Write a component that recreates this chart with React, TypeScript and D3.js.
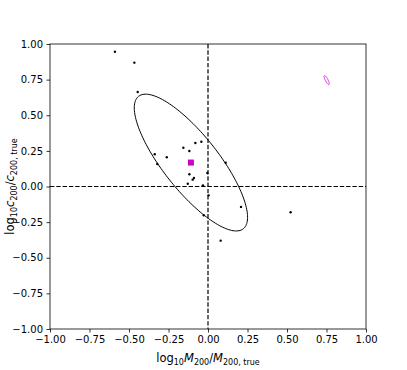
import React, { useRef, useEffect } from 'react';
import * as d3 from 'd3';

// scatter of individual fits (log10 M/Mtrue, log10 c/ctrue)
const pointsX = [-0.589, -0.466, -0.445, -0.337, -0.321, -0.261, -0.156, -0.118, -0.080, -0.042,
  -0.004, -0.118, -0.089, -0.097, -0.128, -0.032, 0.004, 0.112, 0.209, -0.027, 0.523, 0.080];
const pointsY = [0.946, 0.869, 0.663, 0.226, 0.158, 0.205, 0.272, 0.249, 0.305, 0.314,
  0.095, 0.086, 0.060, 0.048, 0.019, 0.008, -0.062, 0.167, -0.143, -0.202, -0.181, -0.380];

// mean of the scatter and its covariance ellipse
const meanPoint = { x: -0.108, y: 0.168 };
const scatterEllipse = { cx: -0.108, cy: 0.168, sx: 0.3585, sy: 0.48, rho: -0.8 };

// stacked-fit ellipse (magenta)
const stackEllipse = { cx: 0.751, cy: 0.747, sx: 0.016, sy: 0.031, rho: -0.8 };

const xTicks = [-1.0, -0.75, -0.5, -0.25, 0.0, 0.25, 0.5, 0.75, 1.0];
const yTicks = [-1.0, -0.75, -0.5, -0.25, 0.0, 0.25, 0.5, 0.75, 1.0];

const W = 407;
const H = 370;

const ellipsePoints = (e: { cx: number; cy: number; sx: number; sy: number; rho: number }) =>
  d3.range(0, 361, 2).map(deg => {
    const t = (deg * Math.PI) / 180;
    return [
      e.cx + e.sx * Math.cos(t),
      e.cy + e.sy * (e.rho * Math.cos(t) + Math.sqrt(1 - e.rho * e.rho) * Math.sin(t)),
    ] as [number, number];
  });

const App = () => {
  const ref = useRef<SVGSVGElement>(null);

  useEffect(() => {
    const svg = d3.select(ref.current);
    svg.selectAll('*').remove();

    const margin = { top: 44, right: 41, bottom: 41, left: 50 };
    const innerW = W - margin.left - margin.right;
    const innerH = H - margin.top - margin.bottom;

    const x = d3.scaleLinear().domain([-1, 1]).range([0, innerW]);
    const y = d3.scaleLinear().domain([-1, 1]).range([innerH, 0]);

    const g = svg.append('g')
      .attr('transform', `translate(${margin.left}, ${margin.top})`);

    const fmt = d3.format('.2f');
    const tickFmt = (d: d3.NumberValue) => fmt(+d).replace('-', '\u2212');

    // Axes
    const xAxis = g.append('g')
      .attr('transform', `translate(0, ${innerH})`)
      .call(d3.axisBottom(x).tickValues(xTicks).tickFormat(tickFmt).tickSize(3.5).tickPadding(3.5));
    const yAxis = g.append('g')
      .call(d3.axisLeft(y).tickValues(yTicks).tickFormat(tickFmt).tickSize(3.5).tickPadding(3.5));
    [xAxis, yAxis].forEach(a => {
      a.select('.domain').remove();
      a.selectAll('line').attr('stroke', '#000').attr('stroke-width', 0.8);
      a.selectAll('text')
        .attr('fill', '#000')
        .style('font-family', 'DejaVu Sans')
        .style('font-size', '10px');
    });

    // Reference lines
    const dash = '4.4,1.9';
    g.append('line')
      .attr('x1', 0).attr('x2', innerW)
      .attr('y1', y(0)).attr('y2', y(0))
      .attr('stroke', '#000').attr('stroke-width', 1.2).attr('stroke-dasharray', dash);
    g.append('line')
      .attr('x1', x(0)).attr('x2', x(0))
      .attr('y1', 0).attr('y2', innerH)
      .attr('stroke', '#000').attr('stroke-width', 1.2).attr('stroke-dasharray', dash);

    const line = d3.line<[number, number]>().x(d => x(d[0])).y(d => y(d[1]));

    // Ellipses
    g.append('path')
      .attr('d', line(ellipsePoints(scatterEllipse)))
      .attr('fill', 'none').attr('stroke', '#000').attr('stroke-width', 1);
    g.append('path')
      .attr('d', line(ellipsePoints(stackEllipse)))
      .attr('fill', 'none').attr('stroke', '#cc00cc').attr('stroke-width', 0.8);

    // Points
    g.selectAll('circle.pt')
      .data(pointsX.map((v, i) => [v, pointsY[i]]))
      .join('circle')
      .attr('class', 'pt')
      .attr('cx', d => x(d[0]))
      .attr('cy', d => y(d[1]))
      .attr('r', 1.2)
      .attr('fill', '#000');

    // Mean marker
    g.append('rect')
      .attr('x', x(meanPoint.x) - 3)
      .attr('y', y(meanPoint.y) - 3)
      .attr('width', 6).attr('height', 6)
      .attr('fill', '#cc00cc');

    // Frame
    g.append('rect')
      .attr('width', innerW).attr('height', innerH)
      .attr('fill', 'none').attr('stroke', '#000').attr('stroke-width', 0.8);

    // Labels
    const xl = g.append('text')
      .attr('x', innerW / 2)
      .attr('y', innerH + 33)
      .attr('text-anchor', 'middle')
      .style('font-family', 'DejaVu Sans')
      .style('font-size', '11.5px');
    xl.append('tspan').text('log');
    xl.append('tspan').attr('dy', 3).style('font-size', '8px').text('10');
    xl.append('tspan').attr('dy', -3).style('font-style', 'italic').text('M');
    xl.append('tspan').attr('dy', 3).style('font-size', '8px').text('200');
    xl.append('tspan').attr('dy', -3).text('/');
    xl.append('tspan').style('font-style', 'italic').text('M');
    xl.append('tspan').attr('dy', 3).style('font-size', '8px').text('200, true');

    const yl = g.append('text')
      .attr('transform', `translate(${-36}, ${innerH / 2}) rotate(-90)`)
      .attr('text-anchor', 'middle')
      .style('font-family', 'DejaVu Sans')
      .style('font-size', '11.5px');
    yl.append('tspan').text('log');
    yl.append('tspan').attr('dy', 3).style('font-size', '8px').text('10');
    yl.append('tspan').attr('dy', -3).style('font-style', 'italic').text('c');
    yl.append('tspan').attr('dy', 3).style('font-size', '8px').text('200');
    yl.append('tspan').attr('dy', -3).text('/');
    yl.append('tspan').style('font-style', 'italic').text('c');
    yl.append('tspan').attr('dy', 3).style('font-size', '8px').text('200, true');
  }, []);

  return (
    <svg
      ref={ref}
      width={W}
      height={H}
      style={{ position: 'absolute', left: 0, top: 0, background: '#fff' }}
    />
  );
};

export default App;
